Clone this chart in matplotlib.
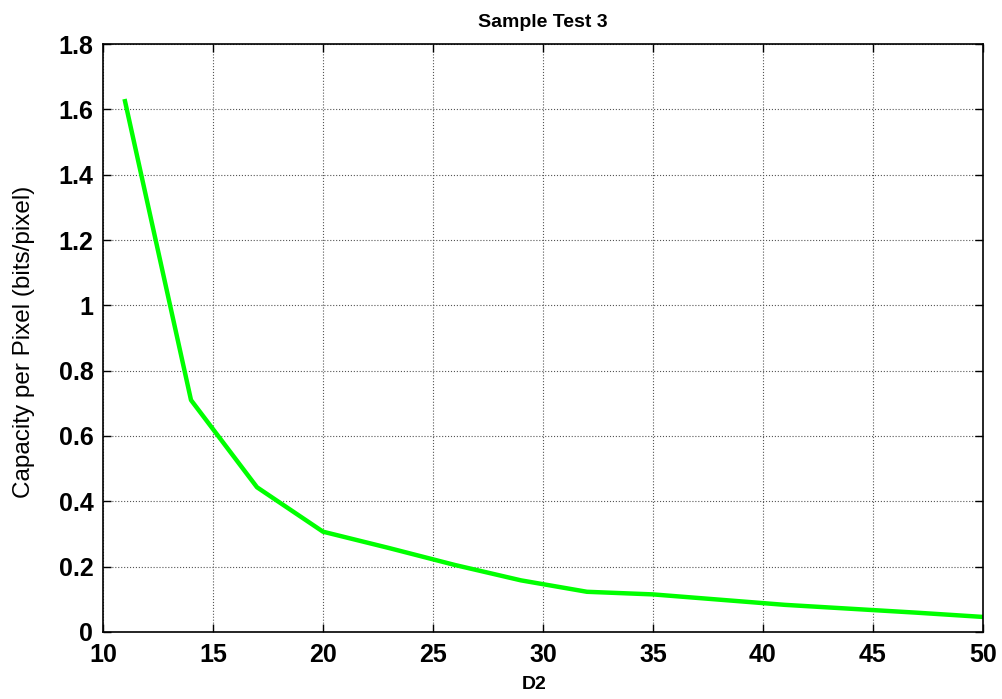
import matplotlib
matplotlib.use('Agg')
import matplotlib.pyplot as plt

plt.rcParams['font.family'] = ['Liberation Sans', 'DejaVu Sans']

# D2 values and measured capacity
d2 = [11, 14, 17, 20, 23, 26, 29, 32, 35, 38, 41, 44, 47, 50]
capacity = [1.625, 0.71, 0.443, 0.307, 0.257, 0.205, 0.158, 0.123, 0.115,
            0.099, 0.083, 0.071, 0.059, 0.046]

xticks = [10, 15, 20, 25, 30, 35, 40, 45, 50]
yticks = [0, 0.2, 0.4, 0.6, 0.8, 1, 1.2, 1.4, 1.6, 1.8]
ytick_labels = ['0', '0.2', '0.4', '0.6', '0.8', '1', '1.2', '1.4', '1.6', '1.8']

fig = plt.figure(figsize=(10.02, 6.99), dpi=100)
ax = fig.add_axes([0.1028, 0.0959, 0.8782, 0.8411])

ax.plot(d2, capacity, color='#00ff00', linewidth=3.2)

ax.set_xlim(10, 50)
ax.set_ylim(0, 1.8)
ax.set_xticks(xticks)
ax.set_yticks(yticks)
ax.set_yticklabels(ytick_labels)
ax.tick_params(direction='in', top=True, right=True, length=6, width=1,
               labelsize=18)
ax.tick_params(axis='x', pad=8)
ax.tick_params(axis='y', pad=7)
for lab in ax.get_xticklabels() + ax.get_yticklabels():
    lab.set_fontweight('bold')

ax.grid(True, color='#555555', linestyle=':', linewidth=0.8)
for s in ax.spines.values():
    s.set_linewidth(1.2)

ax.set_title('Sample Test 3', fontsize=14, fontweight='bold', pad=12)
ax.set_xlabel('D2', fontsize=14, fontweight='bold')
ax.xaxis.set_label_coords(0.4895, -0.0745)
ax.set_ylabel('Capacity per Pixel (bits/pixel)', fontsize=17.5)
ax.yaxis.set_label_coords(-0.077, 0.493)

fig.savefig('out.png', dpi=100)
